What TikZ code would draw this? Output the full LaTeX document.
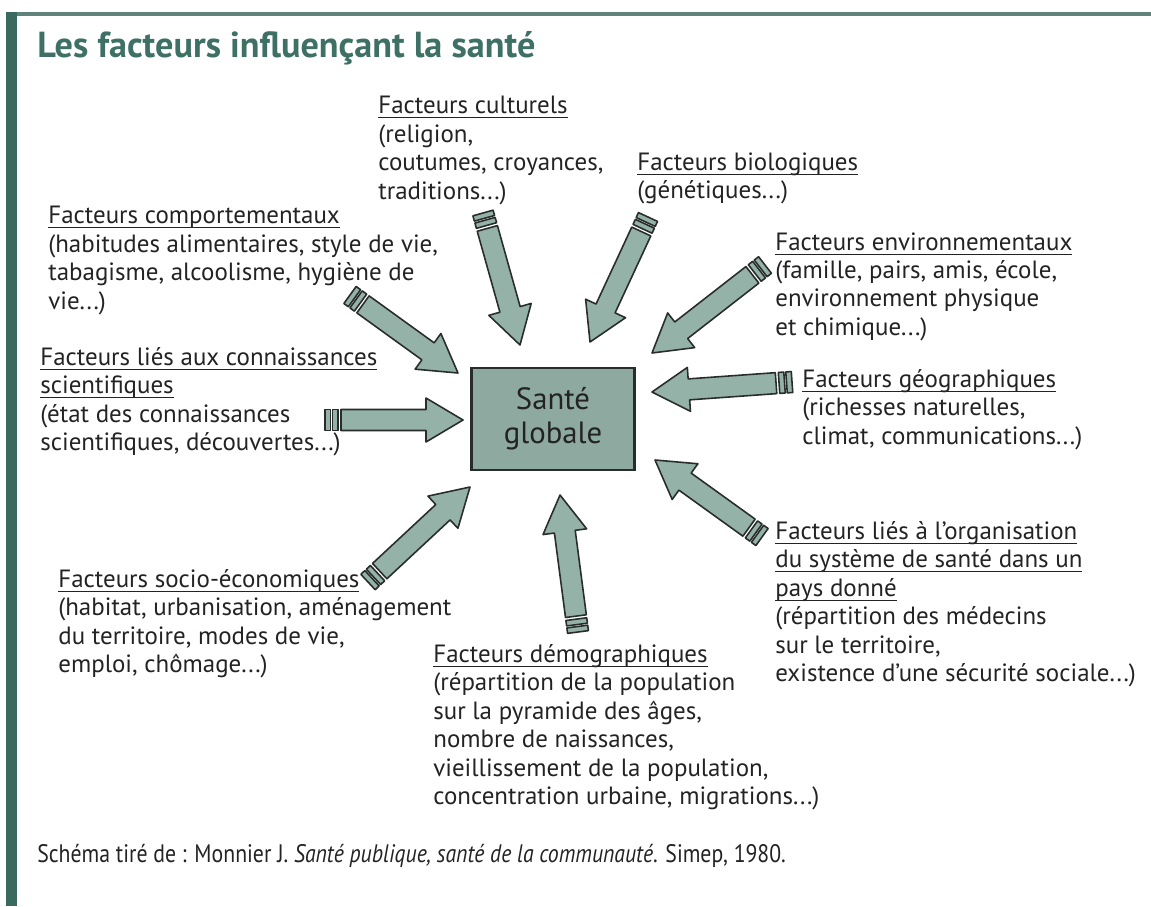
\documentclass[tikz,border=0pt]{standalone}
\usepackage{fontspec}
\setmainfont{PT Sans}
\usepackage{graphicx}
\usepackage{tikz}
\usetikzlibrary{calc, positioning}
\definecolor{sante_fond}{RGB}{142, 170, 160}
\definecolor{fleche_fond}{RGB}{148, 178, 167}
\definecolor{trait}{RGB}{40, 45, 43}
\definecolor{titre_vert}{RGB}{62, 112, 102}
\definecolor{cadre}{RGB}{58, 105, 96}
\definecolor{filet}{RGB}{95, 130, 122}
\definecolor{texte}{RGB}{35, 35, 35}
\tikzstyle{fleche} = [draw=trait, fill=fleche_fond, line width=0.9pt, line join=round]
\tikzstyle{legende} = [anchor=north west, align=left, inner sep=0pt, text=texte, font=\fontsize{14.2}{16.2}\selectfont]
\newsavebox{\soulbox}
\newcommand{\souligne}[1]{\sbox{\soulbox}{#1}\rlap{\rule[-2.6pt]{\wd\soulbox}{0.55pt}}\usebox{\soulbox}}
\newcommand{\demi}{0.21cm}
\newcommand{\tete}{0.44cm}
% big arrow with two small bars at the tail: #1 = tail, #2 = tip
\newcommand{\grossefleche}[2]{%
  \coordinate (b1) at ($(#1)!0.11cm!(#2)$);
  \coordinate (b2) at ($(#1)!0.15cm!(#2)$);
  \coordinate (b3) at ($(#1)!0.26cm!(#2)$);
  \coordinate (b4) at ($(#1)!0.32cm!(#2)$);
  \coordinate (hb) at ($(#2)!0.74cm!(#1)$);
  \draw[fleche] ($(#1)!\demi!90:(#2)$) -- ($(b1)!\demi!90:(#2)$) -- ($(b1)!\demi!-90:(#2)$) -- ($(#1)!\demi!-90:(#2)$) -- cycle;
  \draw[fleche] ($(b2)!\demi!90:(#2)$) -- ($(b3)!\demi!90:(#2)$) -- ($(b3)!\demi!-90:(#2)$) -- ($(b2)!\demi!-90:(#2)$) -- cycle;
  \draw[fleche] ($(b4)!\demi!90:(#2)$) -- ($(hb)!\demi!90:(#2)$) -- ($(hb)!\tete!90:(#2)$) -- (#2)
    -- ($(hb)!\tete!-90:(#2)$) -- ($(hb)!\demi!-90:(#2)$) -- ($(b4)!\demi!-90:(#2)$) -- cycle;
}

\begin{document}
\begin{tikzpicture}[x=0.02cm, y=-0.02cm]

\fill[white] (0,0) rectangle (1151,906);
\useasboundingbox (0,0) rectangle (1151,906);

% Frame
\fill[cadre] (6,12) rectangle (17,906);
\fill[filet] (17,12) rectangle (1151,16);

% Title
\node[anchor=west, inner sep=0pt, text=titre_vert, font=\fontsize{20.6}{24}\selectfont\bfseries] (titre) at (37,48) {Les facteurs influençant la santé};

% Central node
\node[rectangle, draw=trait, line width=1.2pt, fill=sante_fond, minimum width=3.26cm, minimum height=2.04cm, align=center, font=\fontsize{17.5}{19.5}\selectfont, text=texte] (sante) at (553,419) {Santé\\globale};

% Factors
\node[legende] (cult) at (378,96) {\souligne{Facteurs culturels}\\(religion,\\coutumes, croyances,\\traditions...)};
\node[legende] (bio) at (637,152) {\souligne{Facteurs biologiques}\\(génétiques...)};
\node[legende] (comp) at (48,206) {\souligne{Facteurs comportementaux}\\(habitudes alimentaires, style de vie,\\tabagisme, alcoolisme, hygiène de\\vie...)};
\node[legende] (env) at (775,232) {\souligne{Facteurs environnementaux}\\(famille, pairs, amis, école,\\environnement physique\\et chimique...)};
\node[legende] (conn) at (40,347) {\souligne{Facteurs liés aux connaissances}\\\souligne{scientifiques}\\(état des connaissances\\scientifiques, découvertes...)};
\node[legende] (geo) at (802,369) {\souligne{Facteurs géographiques}\\(richesses naturelles,\\climat, communications...)};
\node[legende] (org) at (775,521) {\souligne{Facteurs liés à l'organisation}\\\souligne{du système de santé dans un}\\\souligne{pays donné}\\(répartition des médecins\\sur le territoire,\\existence d'une sécurité sociale...)};
\node[legende] (socio) at (58,569) {\souligne{Facteurs socio-économiques}\\(habitat, urbanisation, aménagement\\du territoire, modes de vie,\\emploi, chômage...)};
\node[legende] (demo) at (433,644) {\souligne{Facteurs démographiques}\\(répartition de la population\\sur la pyramide des âges,\\nombre de naissances,\\vieillissement de la population,\\concentration urbaine, migrations...)};

% Source
\node[anchor=west, inner sep=0pt, text=texte, font=\fontsize{14.4}{16}\selectfont] (source) at (37,856) {\scalebox{0.86}[1]{Schéma tiré de : Monnier J. \textit{Santé publique, santé de la communauté}. Simep, 1980.}};

% Arrow ends
\coordinate (cult-q) at (483,213);  \coordinate (cult-p) at (520,345);
\coordinate (bio-q) at (648,217);   \coordinate (bio-p) at (590,342);
\coordinate (comp-q) at (350,295);  \coordinate (comp-p) at (458,373);
\coordinate (env-q) at (765,265);   \coordinate (env-p) at (652,353);
\coordinate (conn-q) at (325,420);  \coordinate (conn-p) at (463,420);
\coordinate (geo-q) at (792,382);   \coordinate (geo-p) at (652,392);
\coordinate (org-q) at (762,537);   \coordinate (org-p) at (655,460);
\coordinate (socio-q) at (368,582); \coordinate (socio-p) at (470,487);
\coordinate (demo-q) at (578,632);  \coordinate (demo-p) at (560,495);

% Arrows
\grossefleche{cult-q}{cult-p}
\grossefleche{bio-q}{bio-p}
\grossefleche{comp-q}{comp-p}
\grossefleche{env-q}{env-p}
\grossefleche{conn-q}{conn-p}
\grossefleche{geo-q}{geo-p}
\grossefleche{org-q}{org-p}
\grossefleche{socio-q}{socio-p}
\grossefleche{demo-q}{demo-p}

\end{tikzpicture}
\end{document}
